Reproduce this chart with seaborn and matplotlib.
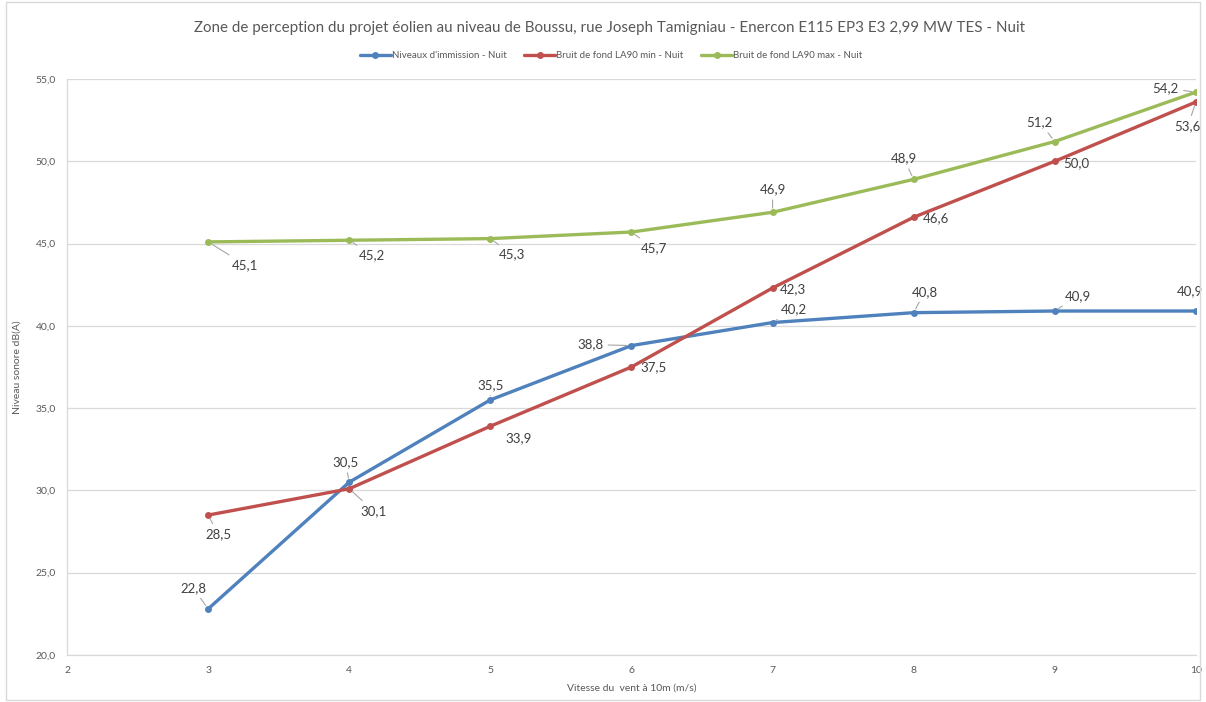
import pandas as pd
import seaborn as sns
import matplotlib.pyplot as plt
from matplotlib.patches import Rectangle

# Data
vitesse = [3, 4, 5, 6, 7, 8, 9, 10]
immission = [22.8, 30.5, 35.5, 38.8, 40.2, 40.8, 40.9, 40.9]
la90_min = [28.5, 30.1, 33.9, 37.5, 42.3, 46.6, 50.0, 53.6]
la90_max = [45.1, 45.2, 45.3, 45.7, 46.9, 48.9, 51.2, 54.2]

series_names = ["Niveaux d'immission - Nuit", "Bruit de fond LA90 min - Nuit", "Bruit de fond LA90 max - Nuit"]
colors = ["#4F81BD", "#C0504D", "#9BBB59"]

# label offsets in pixels (dx, dy) and whether a leader line is drawn
offsets = [
    [(-15, 21, 1), (-4, 20, 1), (0, 15, 1), (-41, 1, 1), (21, 13, 1), (11, 21, 1), (23, 15, 1), (-6, 20, 0)],
    [(10, -19, 1), (24, -22, 1), (28, -12, 0), (22, 0, 0), (20, -1, 0), (22, -1, 0), (22, -2, 0), (-8, -24, 1)],
    [(37, -23, 1), (23, -15, 1), (22, -16, 1), (22, -16, 1), (0, 23, 1), (-10, 21, 1), (-15, 19, 1), (-30, 4, 1)],
]

df = pd.DataFrame({"vitesse": vitesse * 3,
                   "niveau": immission + la90_min + la90_max,
                   "serie": [s for s in series_names for _ in vitesse]})

sns.set_style("white")
plt.rcParams['font.family'] = ['Lato', 'DejaVu Sans']

fig = plt.figure(figsize=(12.06, 7.02), dpi=100)
ax = fig.add_axes([0.0556, 0.067, 0.936, 0.8205])

sns.lineplot(data=df, x="vitesse", y="niveau", hue="serie", palette=colors,
             marker="o", markersize=5, markeredgewidth=0, linewidth=2.4, ax=ax)

for vals, offs, col in zip([immission, la90_min, la90_max], offsets, colors):
    for x, y, (dx, dy, lead) in zip(vitesse, vals, offs):
        ap = dict(arrowstyle="-", color="#a6a6a6", lw=0.8, shrinkA=1, shrinkB=3) if lead else None
        ax.annotate(f"{y:.1f}".replace(".", ","), xy=(x, y), xytext=(dx, dy),
                    textcoords="offset pixels", ha="center", va="center",
                    fontsize=9.5, color="#404040", arrowprops=ap, annotation_clip=False)

ax.set_xlim(2, 10)
ax.set_ylim(20, 55)
ax.set_xticks(range(2, 11))
ax.set_yticks(range(20, 56, 5))
ax.set_yticklabels([f"{v:.1f}".replace(".", ",") for v in range(20, 56, 5)])
ax.tick_params(axis="both", labelsize=7.5, labelcolor="#595959", length=0, pad=8)
ax.yaxis.grid(True, color="#d9d9d9", linewidth=0.9)
for s in ["top", "right"]:
    ax.spines[s].set_visible(False)
for s in ["left", "bottom"]:
    ax.spines[s].set_color("#d9d9d9")
    ax.spines[s].set_linewidth(0.9)

ax.set_xlabel("Vitesse du  vent à 10m (m/s)", fontsize=7.5, color="#595959", labelpad=6)
ax.set_ylabel("Niveau sonore dB(A)", fontsize=7.5, color="#595959", labelpad=10)

handles, labels = ax.get_legend_handles_labels()
ax.legend(handles, labels, ncol=3, loc="center", bbox_to_anchor=(0.482, 1.04),
          frameon=False, fontsize=7, labelcolor="#595959", handlelength=3.2,
          handletextpad=0.1, columnspacing=1.8)

fig.text(0.505, 0.96, "Zone de perception du projet éolien au niveau de Boussu, rue Joseph Tamigniau - Enercon E115 EP3 E3 2,99 MW TES - Nuit",
         ha="center", va="center", fontsize=10.9, color="#595959")

fig.patches.append(Rectangle((0.005, 0.003), 0.99, 0.994, transform=fig.transFigure,
                             fill=False, edgecolor="#d9d9d9", linewidth=1))

fig.savefig("out.png", dpi=100)
